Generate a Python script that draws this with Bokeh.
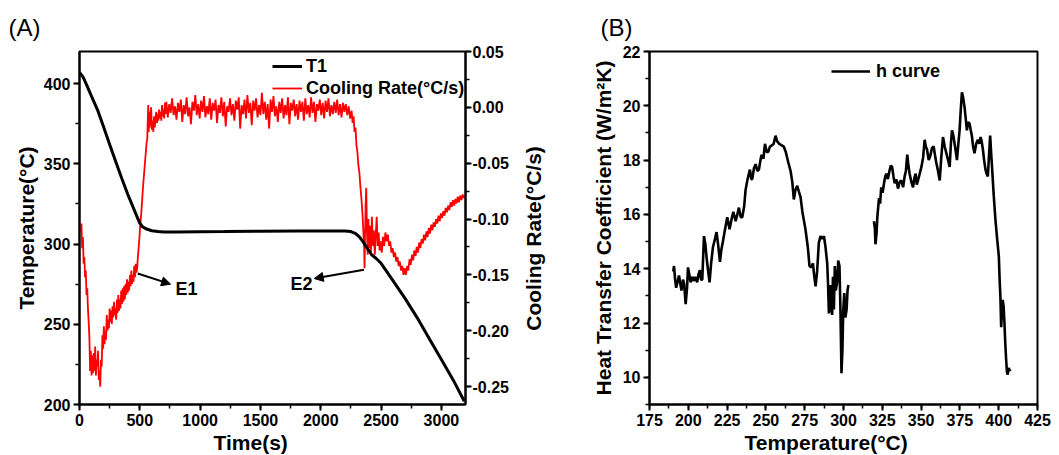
import math
from bokeh.plotting import figure
from bokeh.models import (Range1d, LinearAxis, SingleIntervalTicker, PrintfTickFormatter,
                          Legend, LegendItem, Arrow, NormalHead, Label, Title)
from bokeh.layouts import row
from bokeh.embed import file_html
from bokeh.resources import INLINE

FONT = "Liberation Sans"

# ---------------- Panel (A) data ----------------
# T1 temperature (deg C) vs time (s)
t1_time = [0, 30, 60, 100, 150, 200, 250, 300, 350, 400, 450, 480, 500, 520, 550, 600, 650, 700,
           800, 1000, 1200, 1500, 1800, 2000, 2200, 2250, 2290, 2320, 2350, 2380, 2420, 2460,
           2500, 2600, 2700, 2800, 2900, 3000, 3100, 3190]
t1_temp = [407, 404, 399, 392, 383.5, 373, 362, 351.5, 341, 331, 322, 316.5, 313, 311, 309.5, 308.3,
           307.8, 307.5, 307.5, 307.7, 307.8, 308, 308.2, 308.2, 308.2, 307.8, 306.5, 304.5, 301.5,
           298, 293.5, 291, 288, 277, 266, 254, 241, 228, 215, 202]

# Cooling rate (deg C/s) vs time (s)
rate_start = [
    (10, -0.112), (16, -0.104), (22, -0.126), (28, -0.116), (34, -0.140), (40, -0.134), (46, -0.152),
    (52, -0.146), (58, -0.168), (64, -0.162), (70, -0.180), (76, -0.192), (82, -0.206), (88, -0.236),
    (94, -0.218), (100, -0.240), (106, -0.222), (112, -0.238), (118, -0.220), (124, -0.236),
    (130, -0.214), (136, -0.240), (142, -0.226), (148, -0.232), (154, -0.218), (160, -0.244),
    (166, -0.236), (172, -0.250), (178, -0.226), (184, -0.232), (190, -0.204), (196, -0.216),
    (202, -0.196), (208, -0.212), (214, -0.200), (220, -0.208), (226, -0.186), (232, -0.200),
    (238, -0.190), (244, -0.198), (250, -0.180), (256, -0.192), (262, -0.182), (268, -0.194),
    (274, -0.178), (280, -0.188), (286, -0.174), (292, -0.186), (298, -0.180), (304, -0.190),
    (310, -0.172), (316, -0.184), (322, -0.168), (328, -0.182), (334, -0.172), (340, -0.180),
    (346, -0.164), (352, -0.176), (358, -0.162), (364, -0.174), (370, -0.160), (376, -0.172),
    (382, -0.158), (388, -0.168), (394, -0.154), (400, -0.166), (406, -0.156), (412, -0.164),
    (418, -0.150), (424, -0.160), (430, -0.146), (436, -0.158), (442, -0.150), (448, -0.156),
    (454, -0.142), (460, -0.152), (466, -0.140), (472, -0.148), (478, -0.144), (484, -0.134),
    (490, -0.126), (496, -0.118), (502, -0.108), (508, -0.100), (514, -0.092), (520, -0.082),
    (526, -0.072), (532, -0.064), (538, -0.056), (544, -0.048), (550, -0.040), (556, -0.032),
    (562, -0.028), (566, -0.012), (570, 0.002), (574, -0.022), (578, -0.004), (582, -0.018),
    (588, -0.008), (594, 0.000), (600, -0.020), (606, -0.012), (612, -0.022), (618, -0.008),
    (624, -0.018), (630, -0.010), (636, -0.004), (642, -0.014), (648, -0.006), (654, -0.012),
    (660, -0.002), (666, -0.010), (672, -0.004), (678, -0.012), (684, 0.002), (690, -0.008),
    (696, -0.002), (702, -0.010), (708, 0.004), (714, -0.006)]

rate_plateau = [
    (720, 0.005), (732, -0.009), (744, 0.003), (756, -0.005), (768, 0.008), (780, -0.007),
    (792, 0.001), (804, -0.011), (816, 0.004), (828, -0.004), (840, 0.007), (852, -0.013),
    (864, 0.002), (876, -0.006), (888, 0.009), (900, -0.008), (912, 0.000), (924, -0.015),
    (936, 0.005), (948, -0.003), (960, 0.011), (972, -0.007), (984, 0.003), (996, -0.010),
    (1008, 0.006), (1020, -0.004), (1032, 0.010), (1044, -0.009), (1056, 0.001), (1068, -0.006),
    (1080, 0.008), (1092, -0.011), (1104, 0.004), (1116, -0.003), (1128, 0.007), (1140, -0.014),
    (1152, 0.002), (1164, -0.005), (1176, 0.009), (1188, -0.008), (1200, 0.005), (1212, -0.017),
    (1224, 0.001), (1236, -0.004), (1248, 0.008), (1260, -0.007), (1272, 0.003), (1284, -0.012),
    (1296, 0.006), (1308, -0.002), (1320, 0.009), (1332, -0.019), (1344, 0.002), (1356, -0.006),
    (1368, 0.007), (1380, -0.010), (1392, 0.011), (1404, -0.005), (1416, 0.004), (1428, -0.016),
    (1440, 0.006), (1452, -0.003), (1464, 0.008), (1476, -0.009), (1488, 0.002), (1500, -0.007),
    (1512, 0.013), (1524, -0.006), (1536, 0.005), (1548, -0.011), (1560, 0.003), (1572, -0.019),
    (1584, 0.007), (1596, -0.004), (1608, 0.010), (1620, -0.008), (1632, 0.001), (1644, -0.013),
    (1656, 0.005), (1668, -0.005), (1680, 0.008), (1692, -0.010), (1704, 0.002), (1716, -0.007),
    (1728, 0.009), (1740, -0.015), (1752, 0.004), (1764, -0.003), (1776, 0.007), (1788, -0.008),
    (1800, 0.003), (1812, -0.011), (1824, 0.006), (1836, -0.004), (1848, 0.005), (1860, -0.012),
    (1872, 0.008), (1884, -0.006), (1896, 0.002), (1908, -0.009), (1920, 0.009), (1932, -0.005),
    (1944, 0.005), (1956, -0.013), (1968, 0.003), (1980, -0.003), (1992, 0.007), (2004, -0.007),
    (2016, 0.004), (2028, -0.010), (2040, 0.006), (2052, -0.004), (2064, 0.008), (2076, -0.008),
    (2088, 0.002), (2100, -0.006), (2112, 0.005), (2124, -0.005), (2136, 0.007), (2148, -0.007),
    (2160, 0.003), (2172, -0.009), (2184, 0.004), (2196, -0.004), (2208, 0.003), (2220, -0.007),
    (2232, 0.001), (2244, -0.010), (2256, -0.003)]

rate_end = [
    (2264, -0.014), (2272, -0.008), (2280, -0.022), (2288, -0.018), (2296, -0.034), (2304, -0.040),
    (2312, -0.052), (2320, -0.058), (2328, -0.070), (2336, -0.080), (2344, -0.092), (2350, -0.104),
    (2356, -0.118), (2360, -0.126), (2363, -0.144), (2367, -0.116), (2372, -0.088), (2377, -0.072),
    (2383, -0.110), (2389, -0.132), (2395, -0.100), (2401, -0.126), (2408, -0.106), (2416, -0.130),
    (2424, -0.098), (2432, -0.124), (2440, -0.110), (2448, -0.132), (2456, -0.114), (2464, -0.098),
    (2472, -0.124), (2480, -0.112), (2488, -0.128), (2496, -0.120), (2506, -0.130), (2516, -0.116),
    (2526, -0.124), (2536, -0.112), (2546, -0.120), (2556, -0.114), (2566, -0.124), (2576, -0.120),
    (2586, -0.130), (2596, -0.126), (2606, -0.134), (2616, -0.130), (2626, -0.138), (2636, -0.134),
    (2646, -0.142), (2656, -0.138), (2666, -0.146), (2676, -0.142), (2686, -0.150), (2696, -0.144),
    (2706, -0.150), (2716, -0.142), (2726, -0.146), (2736, -0.136), (2746, -0.141), (2756, -0.132),
    (2766, -0.137), (2776, -0.128), (2786, -0.133), (2796, -0.125), (2806, -0.130), (2816, -0.121),
    (2826, -0.126), (2836, -0.118), (2846, -0.122), (2856, -0.114), (2866, -0.119), (2876, -0.111),
    (2886, -0.116), (2896, -0.108), (2906, -0.113), (2916, -0.105), (2926, -0.110), (2936, -0.103),
    (2946, -0.107), (2956, -0.100), (2966, -0.104), (2976, -0.097), (2986, -0.102), (2996, -0.095),
    (3006, -0.099), (3016, -0.093), (3026, -0.097), (3036, -0.090), (3046, -0.094), (3056, -0.088),
    (3066, -0.092), (3076, -0.085), (3086, -0.089), (3096, -0.083), (3106, -0.088), (3116, -0.082),
    (3126, -0.086), (3136, -0.080), (3146, -0.085), (3156, -0.079), (3166, -0.083), (3176, -0.078),
    (3186, -0.081), (3194, -0.079)]

# ---------------- Panel (B) data ----------------
h_seg1 = [
    (190.3, 13.9), (190.8, 14.1), (191.5, 13.6), (192.2, 13.3), (193.0, 13.5), (194.0, 13.75),
    (195.0, 13.4), (195.6, 13.2), (196.6, 13.6), (197.3, 13.45), (198.3, 12.7), (199.2, 13.3),
    (199.8, 14.05), (200.6, 13.8), (201.5, 13.5), (202.5, 13.7), (203.6, 13.55), (204.5, 13.7),
    (205.7, 13.5), (206.6, 13.8), (207.5, 13.95), (208.2, 13.6), (209.0, 13.6), (210.1, 15.2),
    (211.0, 14.9), (211.8, 14.4), (212.6, 14.0), (213.7, 13.5), (214.7, 14.2), (215.9, 14.8),
    (217.2, 15.1), (218.2, 15.35), (219.2, 14.9), (220.4, 14.25), (221.3, 14.7), (222.3, 15.0),
    (223.5, 15.4), (225.1, 15.9), (226.6, 15.45), (227.8, 15.8), (229.0, 16.1), (230.5, 15.75),
    (231.6, 16.0), (232.6, 16.25), (233.8, 15.9), (234.8, 15.9), (236.0, 16.3), (236.9, 16.9),
    (238.2, 17.3), (239.7, 17.65), (240.6, 17.3), (241.2, 17.3), (242.3, 17.7), (243.4, 17.85),
    (244.5, 17.6), (245.5, 17.65), (246.5, 18.0), (247.2, 18.2), (248.4, 18.05), (249.4, 18.6),
    (250.5, 18.3), (251.5, 18.3), (252.6, 18.5), (254.1, 18.55), (255.0, 18.6), (256.2, 18.9),
    (257.2, 18.7), (258.5, 18.6), (260.0, 18.55), (261.5, 18.5), (262.8, 18.3), (264.5, 17.9),
    (265.9, 17.6), (267.0, 17.2), (268.0, 16.55), (269.0, 16.9), (270.2, 17.05), (271.2, 16.85),
    (272.3, 16.65), (273.5, 16.1), (275.5, 15.45), (277.0, 14.8), (278.1, 14.1), (279.3, 14.05),
    (280.3, 14.2), (281.0, 13.8), (282.0, 13.35), (283.0, 13.9), (284.1, 14.95), (285.2, 15.2),
    (286.3, 15.1), (287.4, 15.2), (288.4, 14.8), (289.5, 14.2), (290.0, 13.5), (290.6, 12.35),
    (291.2, 13.0), (291.6, 13.4), (292.1, 12.6), (292.7, 12.3), (293.2, 13.7), (293.8, 12.5),
    (294.4, 14.1), (295.0, 13.2), (295.9, 13.5), (296.6, 14.3), (297.4, 14.1), (298.0, 12.6),
    (298.7, 10.15), (299.3, 11.0), (299.8, 12.4), (300.5, 13.1), (301.2, 12.2), (302.0, 12.5),
    (302.6, 13.2), (303.2, 13.4)]

h_seg2 = [
    (319.6, 15.75), (320.2, 15.5), (320.6, 14.9), (321.3, 15.3), (321.8, 15.9), (322.4, 16.3),
    (322.9, 16.6), (323.6, 16.4), (324.3, 17.0), (325.2, 16.8), (326.1, 17.15), (326.9, 17.4),
    (327.6, 17.5), (328.6, 17.3), (329.8, 17.65), (330.5, 17.8), (331.3, 17.75), (332.2, 17.4),
    (333.0, 17.15), (334.0, 17.3), (335.1, 16.95), (336.2, 17.2), (337.3, 17.25), (338.4, 17.0),
    (339.4, 17.4), (340.2, 17.6), (341.1, 18.2), (341.8, 17.8), (342.6, 17.5), (343.7, 17.2),
    (344.8, 17.0), (345.7, 17.35), (346.5, 17.5), (347.2, 17.1), (348.0, 17.25), (349.1, 17.5),
    (350.2, 17.75), (351.3, 18.1), (352.3, 18.75), (353.0, 18.5), (353.8, 18.4), (354.9, 18.0),
    (355.9, 18.15), (357.0, 18.45), (358.1, 18.5), (358.9, 18.2), (359.8, 17.9), (360.9, 17.6),
    (362.0, 17.25), (363.0, 18.1), (364.1, 18.85), (365.2, 18.5), (366.3, 18.25), (367.4, 18.0),
    (368.4, 17.75), (369.2, 18.6), (369.9, 19.1), (370.8, 18.9), (371.6, 18.6), (372.4, 18.3),
    (373.1, 18.0), (374.0, 18.6), (374.8, 19.1), (375.5, 19.8), (376.3, 20.5), (377.1, 20.3),
    (378.0, 19.95), (378.8, 19.5), (379.5, 19.1), (380.3, 19.4), (381.2, 19.35), (382.0, 19.1),
    (382.7, 18.9), (383.5, 18.5), (384.4, 18.25), (385.5, 18.6), (386.6, 18.75), (387.5, 18.6),
    (388.3, 18.85), (389.0, 18.7), (389.8, 18.4), (390.6, 18.0), (391.5, 17.65), (392.2, 17.5),
    (393.0, 17.4), (393.8, 18.2), (394.5, 18.9), (395.1, 18.3), (395.8, 17.65), (396.8, 16.7),
    (397.9, 15.8), (399.0, 15.1), (400.1, 14.45), (400.6, 13.6), (401.1, 12.95), (401.6, 11.85),
    (402.1, 12.5), (402.6, 12.85), (403.2, 12.6), (403.7, 12.0), (404.2, 11.3), (404.7, 10.75),
    (405.3, 10.2), (405.8, 10.1), (406.5, 10.35), (407.0, 10.25), (407.6, 10.3)]

# ---------------- helpers ----------------
def unzip(pairs):
    return [a for a, _ in pairs], [b for _, b in pairs]


def style_axis(ax, interval, label_standoff=3, title_standoff=3):
    ax.ticker = SingleIntervalTicker(interval=interval, num_minor_ticks=2)
    ax.axis_line_width = 2
    ax.axis_line_color = "black"
    ax.major_tick_line_width = 2
    ax.minor_tick_line_width = 1.5
    ax.major_tick_out = 6
    ax.major_tick_in = 0
    ax.minor_tick_out = 4
    ax.minor_tick_in = 0
    ax.major_label_text_font = FONT
    ax.major_label_text_font_style = "bold"
    ax.major_label_text_font_size = "16px"
    ax.major_label_text_color = "black"
    ax.major_label_standoff = label_standoff
    ax.axis_label_text_font = FONT
    ax.axis_label_text_font_style = "bold"
    ax.axis_label_text_font_size = "21px"
    ax.axis_label_text_color = "black"
    ax.axis_label_standoff = title_standoff


def style_fig(p, offset):
    p.xgrid.visible = False
    p.ygrid.visible = False
    p.outline_line_color = "black"
    p.outline_line_width = 2
    p.outline_line_alpha = 1
    p.background_fill_color = "white"
    p.border_fill_color = "white"
    p.title.text_font = FONT
    p.title.text_font_size = "24px"
    p.title.text_font_style = "normal"
    p.title.text_color = "black"
    p.title.offset = offset
    p.title.standoff = 21


def x_title(p, text, offset):
    # x-axis title placed below the axis, shifted like in the original
    p.add_layout(Title(text=text, align="left", offset=offset, standoff=0,
                       text_font=FONT, text_font_style="bold", text_font_size="21px",
                       text_color="black"), "below")


# ---------------- Panel (A) ----------------
pA = figure(width=511, height=455, x_range=Range1d(0, 3200), y_range=Range1d(200, 420),
            output_backend="svg", toolbar_location=None, title="(A)",
            min_border_left=79, min_border_right=44, min_border_top=51, min_border_bottom=51)
style_fig(pA, -71)
pA.extra_y_ranges = {"cr": Range1d(-0.266, 0.05)}

style_axis(pA.xaxis[0], 500, label_standoff=3)
x_title(pA, "Time(s)", 134)
style_axis(pA.yaxis[0], 50, label_standoff=3, title_standoff=3)
pA.yaxis[0].axis_label = "Temperature(°C)"

right_ax = LinearAxis(y_range_name="cr", formatter=PrintfTickFormatter(format="%.2f"))
style_axis(right_ax, 0.05, label_standoff=1)
pA.add_layout(right_ax, "right")

rx, ry = unzip(rate_start + rate_plateau + rate_end)
red_r = pA.line(rx, ry, y_range_name="cr", line_color="#ff0000", line_width=1.8)
blk_r = pA.line(t1_time, t1_temp, line_color="black", line_width=3)

legA = Legend(items=[LegendItem(label="T1", renderers=[blk_r]),
                     LegendItem(label="Cooling Rate(°C/s)", renderers=[red_r])],
              location=(193, 305), orientation="vertical",
              glyph_width=30, glyph_height=22, label_height=22, label_standoff=4,
              padding=0, margin=0, spacing=0,
              border_line_alpha=0, background_fill_alpha=0,
              label_text_font=FONT, label_text_font_style="bold",
              label_text_font_size="18px", label_text_color="black")
pA.add_layout(legA)

head1 = NormalHead(size=9, fill_color="black", line_color="black", line_width=1)
pA.add_layout(Arrow(end=head1, x_start=482, y_start=281.6, x_end=755, y_end=275.0,
                    line_color="black", line_width=2))
head2 = NormalHead(size=9, fill_color="black", line_color="black", line_width=1)
pA.add_layout(Arrow(end=head2, x_start=2358, y_start=284.0, x_end=1946, y_end=278.5,
                    line_color="black", line_width=2))
pA.add_layout(Label(x=795, y=272.2, text="E1", text_font=FONT, text_font_style="bold",
                    text_font_size="18px", text_baseline="middle", text_align="left",
                    text_color="black"))
pA.add_layout(Label(x=1932, y=275.3, text="E2", text_font=FONT, text_font_style="bold",
                    text_font_size="18px", text_baseline="middle", text_align="right",
                    text_color="black"))

# ---- narrow strip holding the right-hand axis title of (A), reading bottom-to-top ----
pT = figure(width=40, height=455, x_range=Range1d(0, 40), y_range=Range1d(0, 455),
            output_backend="svg", toolbar_location=None,
            x_axis_location=None, y_axis_location=None,
            min_border=0, min_border_left=0, min_border_right=0,
            min_border_top=0, min_border_bottom=0)
pT.xgrid.visible = False
pT.ygrid.visible = False
pT.outline_line_color = None
pT.background_fill_color = "white"
pT.border_fill_color = "white"
pT.add_layout(Label(x=22, y=214, text="Cooling Rate(°C/s)", angle=math.pi / 2,
                    text_font=FONT, text_font_style="bold", text_font_size="21px",
                    text_align="center", text_baseline="middle", text_color="black"))

# ---------------- Panel (B) ----------------
pB = figure(width=508, height=455, x_range=Range1d(175, 425), y_range=Range1d(9, 22),
            output_backend="svg", toolbar_location=None, title="(B)",
            min_border_left=98, min_border_right=22, min_border_top=51, min_border_bottom=51)
style_fig(pB, -49)
style_axis(pB.xaxis[0], 25, label_standoff=3)
x_title(pB, "Temperature(°C)", 95)
style_axis(pB.yaxis[0], 2, label_standoff=3, title_standoff=5)
pB.yaxis[0].axis_label = "Heat Transfer Coefficient (W/m²K)"

h1x, h1y = unzip(h_seg1)
h2x, h2y = unzip(h_seg2)
h_r1 = pB.line(h1x, h1y, line_color="black", line_width=2.6)
h_r2 = pB.line(h2x, h2y, line_color="black", line_width=2.6)

legB = Legend(items=[LegendItem(label="h curve", renderers=[h_r1])],
              location=(182, 322), glyph_width=39, glyph_height=22, label_height=22,
              label_standoff=6, padding=0, margin=0, spacing=0,
              border_line_alpha=0, background_fill_alpha=0,
              label_text_font=FONT, label_text_font_style="bold",
              label_text_font_size="18px", label_text_color="black")
pB.add_layout(legB)

layout = row(pA, pT, pB)
open("out.html", "w").write(file_html(layout, INLINE))
